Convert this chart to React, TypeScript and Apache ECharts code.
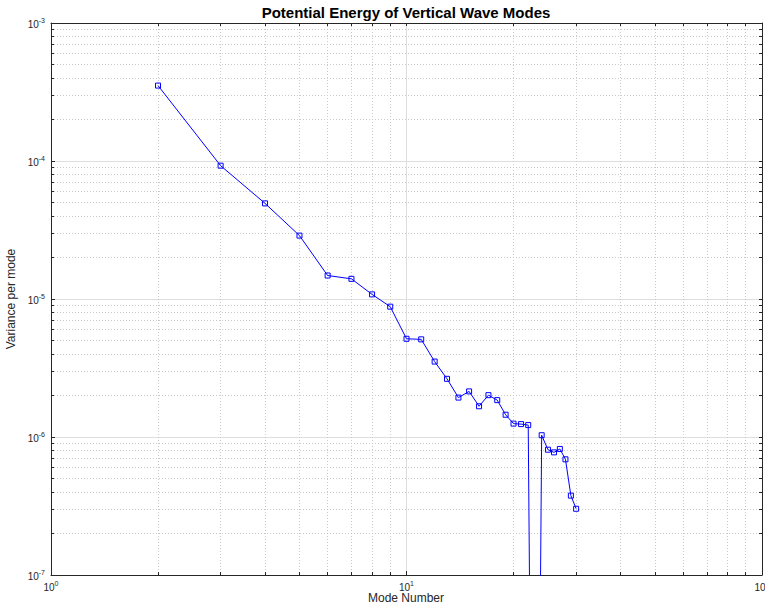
import React, { useEffect, useRef } from 'react';
import * as echarts from 'echarts';

const modes = [2, 3, 4, 5, 6, 7, 8, 9, 10, 11, 12, 13, 14, 15, 16, 17, 18, 19, 20, 21, 22, 23, 24, 25, 26, 27, 28, 29, 30];
const variance = [
  3.52e-4, 9.25e-5, 4.93e-5, 2.88e-5, 1.48e-5, 1.40e-5, 1.08e-5, 8.8e-6,
  5.15e-6, 5.1e-6, 3.52e-6, 2.64e-6, 1.93e-6, 2.14e-6, 1.67e-6, 2.01e-6,
  1.85e-6, 1.45e-6, 1.25e-6, 1.24e-6, 1.22e-6, 1e-12, 1.03e-6, 8.09e-7,
  7.74e-7, 8.19e-7, 6.89e-7, 3.76e-7, 3.02e-7,
];

const xMajorTicks = [1, 10, 100];
const xMinorDecades = [1, 10];
const yMajorTicks = [1e-7, 1e-6, 1e-5, 1e-4, 1e-3];
const yMinorDecades = [1e-7, 1e-6, 1e-5, 1e-4];
const minorMantissas = [2, 3, 4, 5, 6, 7, 8, 9];

const titleText = 'Potential Energy of Vertical Wave Modes';
const xName = 'Mode Number';
const yName = 'Variance per mode';

const FONT = '"Liberation Sans", Arial, Helvetica, sans-serif';
const AXIS = '#262626';

const minorOf = (decades: number[]) => {
  const out: number[] = [];
  decades.forEach((d) => minorMantissas.forEach((m) => out.push(m * d)));
  return out;
};

export default function App() {
  const ref = useRef<HTMLDivElement>(null);

  useEffect(() => {
    if (!ref.current) return;
    const chart = echarts.init(ref.current, undefined, { renderer: 'svg' });

    const xMinor = minorOf(xMinorDecades);
    const yMinor = minorOf(yMinorDecades);

    const rich = {
      b: { fontSize: 10, color: AXIS, fontFamily: FONT, verticalAlign: 'bottom', lineHeight: 12 },
      s: { fontSize: 7, color: AXIS, fontFamily: FONT, verticalAlign: 'bottom', padding: [0, 0, 5, 0] },
    };
    const fmt = (v: number) => {
      const e = Math.round(Math.log10(v));
      return `{b|10}{s|${e}}`;
    };

    const hiddenLabel = { show: false };
    const axisLineStyle = { show: true, lineStyle: { color: AXIS, width: 1 } };
    const majorSplit = { show: true, lineStyle: { color: '#dedede', width: 1, type: 'solid' } };
    const minorSplit = { show: true, lineStyle: { color: '#cacaca', width: 1, type: [1, 2] } };

    const xBase = { type: 'log', logBase: 10, min: 1, max: 100 };
    const yBase = { type: 'log', logBase: 10, min: 1e-7, max: 1e-3 };

    chart.setOption({
      animation: false,
      grid: { left: 51, right: 3, top: 23, bottom: 32, containLabel: false, outerBoundsMode: 'none' },
      graphic: [
        {
          type: 'text',
          x: 406,
          y: 12,
          style: {
            text: titleText,
            font: `bold 15px ${FONT}`,
            fill: '#000',
            textAlign: 'center',
            textVerticalAlign: 'middle',
          },
        },
        {
          type: 'text',
          x: 406,
          y: 598,
          style: {
            text: xName,
            font: `12px ${FONT}`,
            fill: AXIS,
            textAlign: 'center',
            textVerticalAlign: 'middle',
          },
        },
      ],
      xAxis: [
        {
          ...xBase,
          position: 'bottom',
          axisLine: axisLineStyle,
          axisTick: { show: true, inside: true, length: 4, customValues: xMajorTicks, lineStyle: { color: AXIS } },
          axisLabel: { show: true, customValues: xMajorTicks, formatter: fmt, rich, margin: 5 },
          splitLine: majorSplit,
        },
        {
          ...xBase,
          position: 'bottom',
          axisLine: { show: false },
          axisTick: { show: true, inside: true, length: 3, customValues: xMinor, lineStyle: { color: AXIS } },
          axisLabel: hiddenLabel,
          splitLine: minorSplit,
        },
        {
          ...xBase,
          position: 'top',
          axisLine: axisLineStyle,
          axisTick: { show: true, inside: true, length: 3, customValues: [...xMajorTicks, ...xMinor], lineStyle: { color: AXIS } },
          axisLabel: hiddenLabel,
          splitLine: { show: false },
        },
      ],
      yAxis: [
        {
          ...yBase,
          position: 'left',
          axisLine: axisLineStyle,
          axisTick: { show: true, inside: true, length: 4, customValues: yMajorTicks, lineStyle: { color: AXIS } },
          axisLabel: { show: true, customValues: yMajorTicks, formatter: fmt, rich, margin: 6 },
          splitLine: majorSplit,
          name: yName,
          nameLocation: 'middle',
          nameGap: 32,
          nameTextStyle: { fontFamily: FONT, fontSize: 12, color: AXIS },
        },
        {
          ...yBase,
          position: 'left',
          axisLine: { show: false },
          axisTick: { show: true, inside: true, length: 3, customValues: yMinor, lineStyle: { color: AXIS } },
          axisLabel: hiddenLabel,
          splitLine: minorSplit,
        },
        {
          ...yBase,
          position: 'right',
          axisLine: axisLineStyle,
          axisTick: { show: true, inside: true, length: 3, customValues: [...yMajorTicks, ...yMinor], lineStyle: { color: AXIS } },
          axisLabel: hiddenLabel,
          splitLine: { show: false },
        },
      ],
      series: [
        {
          type: 'line',
          xAxisIndex: 0,
          yAxisIndex: 0,
          data: modes.map((m, i) => [m, variance[i]]),
          symbol: 'rect',
          symbolSize: 5,
          showSymbol: true,
          showAllSymbol: true,
          clip: true,
          lineStyle: { color: '#0000ff', width: 1 },
          itemStyle: { color: 'none', borderColor: '#0000ff', borderWidth: 1 },
          emphasis: { disabled: true },
          z: 5,
        },
      ],
    });

    return () => chart.dispose();
  }, []);

  return (
    <div
      ref={ref}
      style={{ position: 'fixed', left: 0, top: 0, width: 765, height: 607, background: '#fff' }}
    />
  );
}
